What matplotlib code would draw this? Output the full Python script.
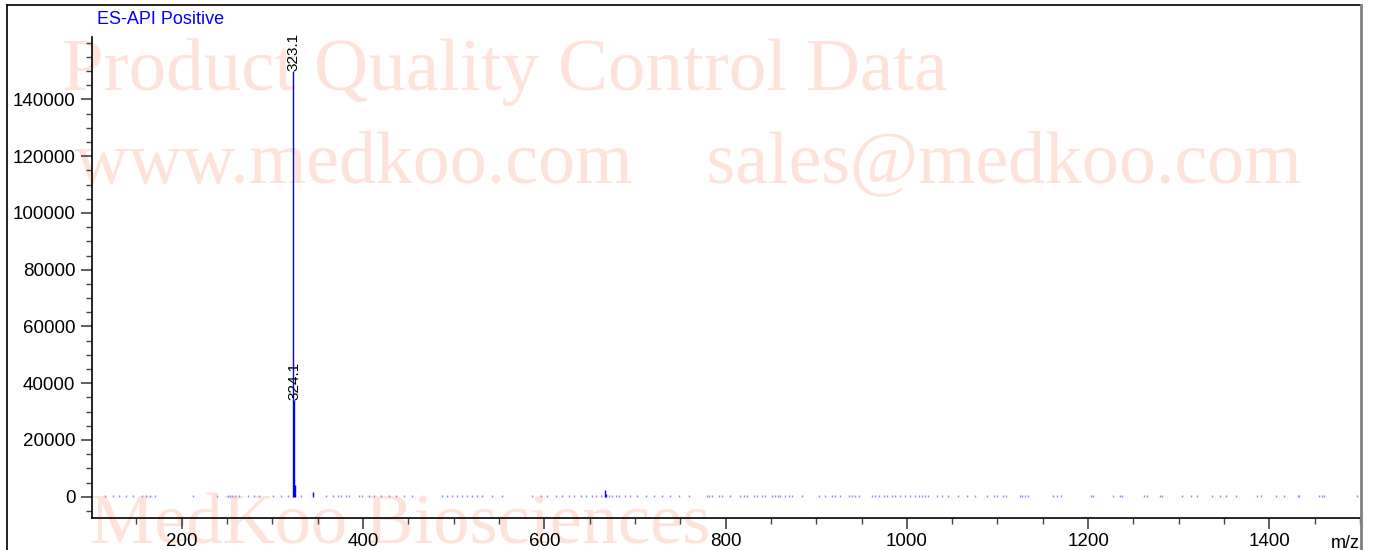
import matplotlib
matplotlib.use("Agg")
import matplotlib.pyplot as plt
from matplotlib.ticker import MultipleLocator, FixedLocator
from matplotlib.lines import Line2D

# ---- data ----
peak_mz = [323.1, 324.1, 325.1, 345.1, 666.8, 668.0]
peak_int = [150000, 34000, 4000, 1500, 2500, 900]
label_mz = [323.1, 324.1]
label_int = [150000, 34000]
label_txt = ["323.1", "324.1"]

noise_mz = [114.8, 124.7, 130.6, 138.7, 146.7, 156.3, 160.7, 165.0, 170.0, 212.1, 238.6, 250.7,
            253.3, 255.5, 259.1, 263.5, 272.7, 280.1, 285.6, 300.3, 309.5, 316.8, 331.5, 359,
            366.4, 371.9, 375.6, 381, 384.8, 395.8, 399.4, 406.8, 412.3, 419.7, 428.8, 436.2,
            445.4, 454.5, 487.6, 493.1, 498.6, 504.1, 509.6, 515.1, 520.7, 526.2, 531.7, 542.7,
            553.7, 586.8, 596, 603.3, 612.5, 619.8, 627.2, 632.7, 640, 645.5, 652.9, 657.3,
            662.1, 671.3, 674.9, 678.6, 682.3, 689.6, 695.1, 702.5, 711.7, 720.9, 730, 739.2,
            748.4, 759.4, 779.6, 782.2, 785.1, 792.5, 796.2, 805.3, 816.4, 820.0, 823.7, 831.1,
            834.7, 840.2, 843.9, 851.3, 854.9, 857.9, 860.4, 866, 869.6, 873.3, 884.3, 902.7,
            910, 917.4, 921, 926.6, 935.7, 939.4, 943.1, 946.8, 961.5, 965.1, 968.8, 974.3,
            978, 983.5, 987.2, 992.7, 998.2, 1003.7, 1009.2, 1012.9, 1016.5, 1020.2, 1023.9,
            1033.1, 1038.6, 1045.9, 1057, 1066.1, 1075.3, 1088.2, 1096.6, 1099.2, 1106.6,
            1109.1, 1124.9, 1127.5, 1130.4, 1134.1, 1161.7, 1165.3, 1170.1, 1203.2, 1205.7,
            1227.8, 1235.1, 1237.7, 1261.9, 1264.5, 1279.2, 1281.8, 1303.1, 1313.3, 1320.7,
            1336.9, 1345.7, 1352.7, 1363.7, 1386.8, 1391.2, 1407.8, 1416.2, 1431.2, 1433.1,
            1455.1, 1458.1, 1460.6, 1496.2]
noise_level = 700

x_major = [200, 400, 600, 800, 1000, 1200, 1400]
y_major = [0, 20000, 40000, 60000, 80000, 100000, 120000, 140000]

title = "ES-API Positive"
wm_lines = ["Product Quality Control Data",
            "www.medkoo.com    sales@medkoo.com",
            "MedKoo Biosciences"]

# ---- figure ----
W, H = 1381, 550
fig = plt.figure(figsize=(W / 100, H / 100), dpi=100)
plt.rcParams['font.family'] = ['Liberation Sans', 'DejaVu Sans']

ax = fig.add_axes([92 / W, 1 - 518 / H, (1360 - 92) / W, (518 - 37) / H])
ax.patch.set_alpha(0)

# watermark
wm_color = '#FEE3DA'
wm_pos = [(62, 90), (75, 182), (90, 543)]
wm_size = [54, 53.2, 52]
for (px, py), t, fs in zip(wm_pos, wm_lines, wm_size):
    ax.text(px / W, 1 - py / H, t, transform=fig.transFigure, fontsize=fs,
            family='Liberation Serif', color=wm_color, ha='left', va='baseline',
            zorder=0, clip_on=False)

# noise
ax.vlines(noise_mz, 0, noise_level, colors='#8c8cff', lw=1.0, zorder=2)
# peaks
ax.vlines(peak_mz, 0, peak_int, colors='#0000FF', lw=1.0, zorder=3)
for m, i, t in zip(label_mz, label_int, label_txt):
    ax.text(m, i, t, rotation=90, ha='center', va='bottom', fontsize=11,
            color='black', zorder=4)

ax.set_xlim(101, 1500)
ax.set_ylim(-7500, 162000)

for s in ['top', 'right']:
    ax.spines[s].set_visible(False)
for s in ['left', 'bottom']:
    ax.spines[s].set_linewidth(1.2)
    ax.spines[s].set_color('black')

ax.xaxis.set_major_locator(FixedLocator(x_major))
ax.xaxis.set_minor_locator(MultipleLocator(50))
ax.yaxis.set_major_locator(FixedLocator(y_major))
ax.yaxis.set_minor_locator(MultipleLocator(5000))
ax.set_xticklabels([str(v) for v in x_major])
ax.set_yticklabels([str(v) for v in y_major])
ax.tick_params(axis='both', which='major', length=8, width=1.2, color='#444444',
               labelsize=13.5, direction='out')
ax.tick_params(axis='both', which='minor', length=4.5, width=1.0, color='#444444',
               direction='out')
ax.tick_params(axis='x', which='major', pad=3)
ax.tick_params(axis='y', which='major', pad=4)

# title and axis unit label
fig.text(97 / W, 1 - 23.5 / H, title, color='#0000FF', fontsize=13,
         ha='left', va='baseline')
fig.text(1360 / W, 1 - 547.5 / H, "m/z", color='black', fontsize=13,
         ha='right', va='baseline')

# outer frame
fig.add_artist(Line2D([7 / W, 7 / W], [0, 1 - 5 / H], transform=fig.transFigure,
                      color='black', lw=1.2))
fig.add_artist(Line2D([7 / W, 1361 / W], [1 - 5 / H, 1 - 5 / H], transform=fig.transFigure,
                      color='black', lw=1.2))
fig.add_artist(Line2D([1361 / W, 1361 / W], [0, 1 - 5 / H], transform=fig.transFigure,
                      color='#808080', lw=2.0))

fig.savefig("out.png", dpi=100)
